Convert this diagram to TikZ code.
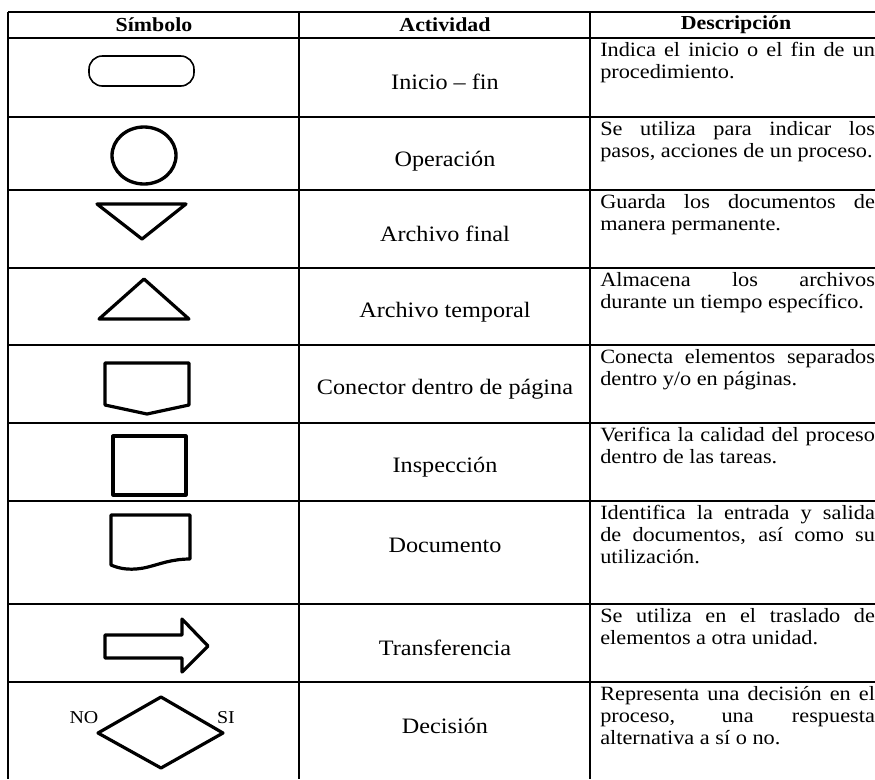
\documentclass[tikz,border=0pt]{standalone}
\usepackage{fontspec}
\setmainfont[FakeStretch=1.1]{Liberation Serif}
\hyphenpenalty=10000

\begin{document}
\begin{tikzpicture}[x=0.75pt,y=-0.75pt,
	fina/.style={line width=1pt},
	gruesa/.style={line width=1.7pt},
	simbolo/.style={line width=2.4pt, line join=round},
	cab/.style={font=\fontsize{14.9}{16}\selectfont\bfseries},
	act/.style={font=\fontsize{16.5}{18}\selectfont},
	etiq/.style={inner sep=0pt, font=\fontsize{13.6}{15}\selectfont},
	desc/.style={anchor=north west, inner sep=0pt, text width=206pt, align=justify, font=\fontsize{15.2}{16.5}\selectfont}]
	\useasboundingbox (0,0) rectangle (875,779);

	%Tabla
	\draw[fina] (8,12) -- (875,12);
	\draw[fina] (8,12) -- (8,779);
	\draw[fina] (299,12) -- (299,779);
	\draw[fina] (590,12) -- (590,779);
	\draw[gruesa] (8,38) -- (875,38);
	\draw[fina] (8,117) -- (875,117);
	\draw[fina] (8,190) -- (875,190);
	\draw[gruesa] (8,268) -- (875,268);
	\draw[fina] (8,345) -- (875,345);
	\draw[gruesa] (8,423) -- (875,423);
	\draw[fina] (8,501) -- (875,501);
	\draw[fina] (8,604) -- (875,604);
	\draw[fina] (8,682) -- (875,682);

	%Encabezados
	\node[cab] (hsim) at (154,25) {Símbolo};
	\node[cab] (hact) at (445,25) {Actividad};
	\node[cab] (hdes) at (736,25) {Descripción};

	%Inicio - fin
	\draw[line width=1.2pt, rounded corners=10pt] (89,56) rectangle (194,86);
	\node[act] (ini) at (445,82) {Inicio – fin};
	\node[desc] (dini) at (600,42) {Indica el inicio o el fin de un\linebreak procedimiento.};

	%Operacion
	\draw[line width=2.5pt] (144,155.5) ellipse [x radius=32, y radius=28.5];
	\node[act] (ope) at (445,161) {Operación};
	\node[desc] (dope) at (600,121) {Se utiliza para indicar los\linebreak pasos, acciones de un proceso.};

	%Archivo final
	\draw[simbolo] (97,204) -- (186,204) -- (142,239) -- cycle;
	\node[act] (afin) at (445,234) {Archivo final};
	\node[desc] (dafin) at (600,194) {Guarda los documentos de\linebreak manera permanente.};

	%Archivo temporal
	\draw[simbolo] (99,319) -- (189,319) -- (144,279) -- cycle;
	\node[act] (atem) at (445,312) {Archivo temporal};
	\node[desc] (datem) at (600,272) {Almacena los archivos\linebreak durante un tiempo específico.};

	%Conector
	\draw[simbolo] (105,363) -- (189,363) -- (189,405) -- (147,414) -- (105,405) -- cycle;
	\node[act] (con) at (445,389) {Conector dentro de página};
	\node[desc] (dcon) at (600,349) {Conecta elementos separados\linebreak dentro y/o en páginas.};

	%Inspeccion
	\draw[simbolo] (113,436) rectangle (186,495);
	\node[act] (ins) at (445,467) {Inspección};
	\node[desc] (dins) at (600,427) {Verifica la calidad del proceso\linebreak dentro de las tareas.};

	%Documento
	\draw[simbolo] (111,515) -- (190,515) -- (190,559) .. controls (172,559) and (160,564) .. (148,567) .. controls (132,571) and (120,569) .. (111,565) -- cycle;
	\node[act] (doc) at (445,545) {Documento};
	\node[desc] (ddoc) at (600,505) {Identifica la entrada y salida\linebreak de documentos, así como su\linebreak utilización.};

	%Transferencia
	\draw[simbolo] (105,635) -- (182,635) -- (182,619) -- (208,646) -- (182,672) -- (182,658) -- (105,658) -- cycle;
	\node[act] (tra) at (445,648) {Transferencia};
	\node[desc] (dtra) at (600,608) {Se utiliza en el traslado de\linebreak elementos a otra unidad.};

	%Decision
	\draw[simbolo] (98,733) -- (161,697) -- (223,733) -- (161,768) -- cycle;
	\node[etiq] (no) at (84,718) {NO};
	\node[etiq] (si) at (226,718) {SI};
	\node[act] (dec) at (445,726) {Decisión};
	\node[desc] (ddec) at (600,686) {Representa una decisión en el\linebreak proceso, una respuesta\linebreak alternativa a sí o no.};
\end{tikzpicture}
\end{document}
